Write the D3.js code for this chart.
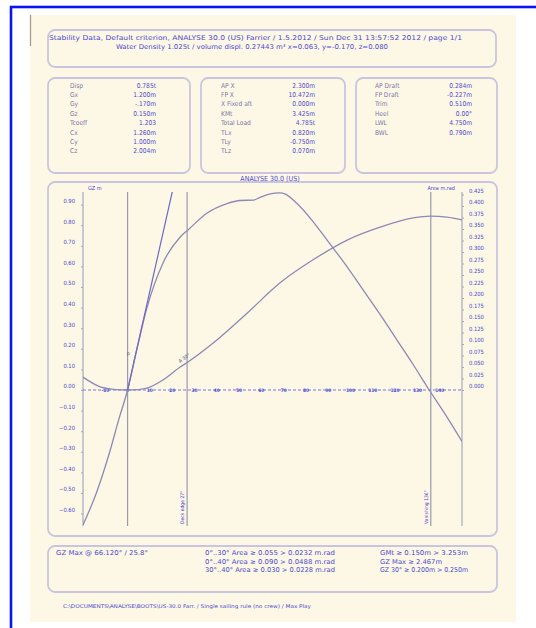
<!DOCTYPE html>
<html>
<head>
<meta charset="utf-8">
<script src="https://cdn.jsdelivr.net/npm/d3@7"></script>
<style>
  body { margin: 0; background: #ffffff; }
  text { font-family: "DejaVu Sans Condensed", "DejaVu Sans", sans-serif; }
</style>
</head>
<body>
<div id="page"></div>
<script>
// ---- data ----
var headerLines = [
  "Stability Data, Default criterion, ANALYSE 30.0 (US) Farrier / 1.5.2012 / Sun Dec 31 13:57:52 2012 / page 1/1",
  "Water Density 1.025t / volume displ. 0.27443 m\u00b3 x=0.063, y=-0.170, z=0.080"
];

var box1Labels = ["Disp", "Gx", "Gy", "Gz", "Tcoeff", "Cx", "Cy", "Cz"];
var box1Values = ["0.785t", "1.200m", "-.170m", "0.150m", "1.203", "1.260m", "1.000m", "2.004m"];
var box2Labels = ["AP X", "FP X", "X Fixed aft", "KMt", "Total Load", "TLx", "TLy", "TLz"];
var box2Values = ["2.300m", "10.472m", "0.000m", "3.425m", "4.785t", "0.820m", "-0.750m", "0.070m"];
var box3Labels = ["AP Draft", "FP Draft", "Trim", "Heel", "LWL", "BWL"];
var box3Values = ["0.284m", "-0.227m", "0.510m", "0.00\u00b0", "4.750m", "0.790m"];

var chartTitle = "ANALYSE 30.0 (US)";

// GZ curve (deg, m)
var gzAngles = [-20, -14, -8, -4, 0, 4.3, 8.7, 15.9, 23.6, 27.1, 35.7, 44.6, 50.5, 56.5, 59.4, 64, 68, 71, 76, 83, 90, 98, 106, 114, 121, 128, 135.3, 142, 150];
var gzValues = [-0.655, -0.50, -0.30, -0.145, 0, 0.204, 0.40, 0.617, 0.743, 0.777, 0.859, 0.905, 0.92, 0.922, 0.935, 0.952, 0.957, 0.95, 0.905, 0.82, 0.72, 0.605, 0.48, 0.355, 0.24, 0.125, 0, -0.11, -0.25];

// area under curve (deg, m.rad)
var areaAngles = [-20, -12.3, -5, 0, 5, 8.7, 15.9, 23.6, 27.1, 38.4, 53.6, 68.4, 83.2, 98.5, 113.3, 128.1, 135.7, 143.3, 150];
var areaValues = [0.028, 0.007, 0.001, 0, 0.001, 0.004, 0.022, 0.050, 0.061, 0.102, 0.167, 0.233, 0.283, 0.326, 0.354, 0.374, 0.378, 0.376, 0.370];

// initial GM line (deg, m)
var gmAngles = [0, 57.3];
var gmValues = [0, 2.75];

var gzTicks = [0.9, 0.8, 0.7, 0.6, 0.5, 0.4, 0.3, 0.2, 0.1, 0, -0.1, -0.2, -0.3, -0.4, -0.5, -0.6];
var areaTicks = [0.425, 0.4, 0.375, 0.35, 0.325, 0.3, 0.275, 0.25, 0.225, 0.2, 0.175, 0.15, 0.125, 0.1, 0.075, 0.05, 0.025, 0];
var angleMarks = [-10, 0, 10, 20, 30, 40, 50, 60, 70, 80, 90, 100, 110, 120, 130, 140];

var vLineAngles = [0, 26.7, 136];
var vLineLabels = ["", "Deck edge 27\u00b0", "Vanishing 136\u00b0"];

var bottomCol1 = ["GZ Max @ 66.120\u00b0 / 25.8\u00b0"];
var bottomCol2 = ["0\u00b0..30\u00b0 Area \u2265 0.055 > 0.0232 m.rad",
                  "0\u00b0..40\u00b0 Area \u2265 0.090 > 0.0488 m.rad",
                  "30\u00b0..40\u00b0 Area \u2265 0.030 > 0.0228 m.rad"];
var bottomCol3 = ["GMt \u2265 0.150m > 3.253m", "GZ Max \u2265 2.467m", "GZ 30\u00b0 \u2265 0.200m > 0.250m"];
var footerText = "C:\\DOCUMENTS\\ANALYSE\\BOOTS\\US-30.0 Farr. / Single sailing rule (no crew) / Max Play";

// ---- layout ----
var svgWidth = 536;
var svgHeight = 628;
var lineCol = "#8d89b5";
var boxCol = "#c9c5df";
var labelCol = "#7a78a6";
var valueCol = "#4c4ad0";

var svg = d3.select("#page").append("svg")
  .attr("width", svgWidth)
  .attr("height", svgHeight);

// blue frame and cream sheet
svg.append("rect").attr("x", 0).attr("y", 0).attr("width", svgWidth).attr("height", svgHeight).attr("fill", "#ffffff");
svg.append("rect")
  .attr("x", 11).attr("y", 7).attr("width", 600).attr("height", 700)
  .attr("fill", "none").attr("stroke", "#0a14f0").attr("stroke-width", 2.6);
svg.append("rect")
  .attr("x", 30).attr("y", 15).attr("width", 486).attr("height", 607)
  .attr("fill", "#fdf7e6");
svg.append("line").attr("x1", 30.5).attr("x2", 30.5).attr("y1", 15).attr("y2", 46)
  .attr("stroke", "#a09a8c").attr("stroke-width", 1.2);

function box(x, y, w, h) {
  svg.append("rect")
    .attr("x", x).attr("y", y).attr("width", w).attr("height", h)
    .attr("rx", 7).attr("ry", 7)
    .attr("fill", "none").attr("stroke", boxCol).attr("stroke-width", 1.8);
}

// text squeezed/stretched to the width it has in the picture
function fitText(x, y, t, w, size, col) {
  return svg.append("text").attr("x", x).attr("y", y)
    .attr("font-size", size).attr("fill", col)
    .attr("textLength", w).attr("lengthAdjust", "spacingAndGlyphs")
    .text(t);
}

// header
box(48, 30, 448, 37);
fitText(49, 40, headerLines[0], 413, 6.6, valueCol);
fitText(116, 49, headerLines[1], 272, 6.6, valueCol);

// info boxes
function infoBox(x, w, labels, values, labelX, valueX) {
  box(x, 78, w, 95);
  labels.forEach(function(l, i) {
    svg.append("text").attr("x", labelX).attr("y", 87.5 + i * 9.4)
      .attr("font-size", 6.6).attr("fill", labelCol).text(l);
    svg.append("text").attr("x", valueX).attr("y", 87.5 + i * 9.4)
      .attr("font-size", 6.6).attr("fill", valueCol).attr("text-anchor", "end").text(values[i]);
  });
}
infoBox(48, 142, box1Labels, box1Values, 70, 156);
infoBox(201, 144, box2Labels, box2Values, 221, 315);
infoBox(356, 141, box3Labels, box3Values, 375, 472);

// chart box
box(48, 182, 449, 354);
svg.append("text").attr("x", 270).attr("y", 181).attr("text-anchor", "middle")
  .attr("font-size", 7).attr("fill", valueCol).text(chartTitle);

var plot = { left: 83, right: 462, top: 192, bottom: 526 };

var xScale = d3.scaleLinear().domain([-20, 150]).range([plot.left, plot.right]);
var yScale = d3.scaleLinear().domain([0, 0.1]).range([390, 369.4]);
var aScale = d3.scaleLinear().domain([0, 0.1]).range([390, 344]);

svg.append("clipPath").attr("id", "plotclip")
  .append("rect").attr("x", plot.left).attr("y", plot.top)
  .attr("width", plot.right - plot.left).attr("height", plot.bottom - plot.top);

// axes
var leftAxis = d3.axisLeft(yScale).tickValues(gzTicks).tickSize(2).tickPadding(6)
  .tickFormat(d3.format(".2f"));
var rightAxis = d3.axisRight(aScale).tickValues(areaTicks).tickSize(2).tickPadding(5)
  .tickFormat(d3.format(".3f"));

var yAxisG = svg.append("g").attr("transform", "translate(" + plot.left + ",0)").call(leftAxis);
var aAxisG = svg.append("g").attr("transform", "translate(" + plot.right + ",0)").call(rightAxis);
[yAxisG, aAxisG].forEach(function(g) {
  g.select(".domain").attr("d", "M0," + plot.top + "V" + plot.bottom)
    .attr("stroke", "#aaa8bc").attr("stroke-width", 1.2);
  g.selectAll(".tick line").attr("stroke", "#aaa8bc");
  g.selectAll(".tick text").attr("font-size", 5.8).attr("fill", valueCol)
    .attr("font-family", "DejaVu Sans Condensed, sans-serif").attr("dy", "-0.35em");
});

svg.append("text").attr("x", 88).attr("y", 190).attr("font-size", 5.5).attr("fill", valueCol).text("GZ m");
svg.append("text").attr("x", 455).attr("y", 190).attr("font-size", 5.5).attr("fill", valueCol)
  .attr("text-anchor", "end").text("Area m.rad");

// vertical reference lines
svg.selectAll(".vline").data(vLineAngles).enter().append("line")
  .attr("x1", d => xScale(d)).attr("x2", d => xScale(d))
  .attr("y1", plot.top).attr("y2", plot.bottom)
  .attr("stroke", "#9c99ad").attr("stroke-width", 1.2);
svg.selectAll(".vlabel").data(vLineAngles).enter().append("text")
  .attr("transform", d => "translate(" + (xScale(d) - 3) + "," + (plot.bottom - 2) + ") rotate(-90)")
  .attr("font-size", 5).attr("fill", valueCol)
  .text((d, i) => vLineLabels[i]);

// baseline with angle marks
svg.append("line")
  .attr("x1", plot.left).attr("x2", plot.right).attr("y1", yScale(0)).attr("y2", yScale(0))
  .attr("stroke", "#6a68dc").attr("stroke-width", 0.9).attr("stroke-dasharray", "3,2");
svg.selectAll(".amark").data(angleMarks).enter().append("text")
  .attr("x", d => xScale(d)).attr("y", yScale(0)).attr("dy", "0.35em")
  .attr("text-anchor", "middle").attr("font-size", 4.8).attr("fill", valueCol)
  .attr("font-weight", "bold")
  .text(d => d);

var curves = svg.append("g").attr("clip-path", "url(#plotclip)");

var gzLine = d3.line()
  .x(d => xScale(d[0])).y(d => yScale(d[1]))
  .curve(d3.curveMonotoneX);
var areaLine = d3.line()
  .x(d => xScale(d[0])).y(d => aScale(d[1]))
  .curve(d3.curveMonotoneX);

curves.append("path")
  .attr("d", gzLine(d3.zip(gzAngles, gzValues)))
  .attr("fill", "none").attr("stroke", lineCol).attr("stroke-width", 1.3);
curves.append("path")
  .attr("d", areaLine(d3.zip(areaAngles, areaValues)))
  .attr("fill", "none").attr("stroke", lineCol).attr("stroke-width", 1.3);
curves.append("path")
  .attr("d", d3.line().x(d => xScale(d[0])).y(d => yScale(d[1]))(d3.zip(gmAngles, gmValues)))
  .attr("fill", "none").attr("stroke", "#6d69c4").attr("stroke-width", 1.2);

svg.append("text").attr("x", 127).attr("y", 355).attr("font-size", 5).attr("fill", "#55537a").text("p");
svg.append("text").attr("transform", "translate(180,363) rotate(-35)")
  .attr("font-size", 5).attr("fill", "#55537a").text("A 30\u00b0");

// bottom box
box(48, 546, 449, 46);
fitText(56, 555, bottomCol1[0], 92, 6.6, valueCol);
bottomCol2.forEach(function(t, i) {
  fitText(205, 555 + i * 8.5, t, 130, 6.6, valueCol);
});
var col3Widths = [88, 62, 88];
bottomCol3.forEach(function(t, i) {
  fitText(380, 555 + i * 8.5, t, col3Widths[i], 6.6, valueCol);
});

fitText(63, 608, footerText, 248, 5.2, valueCol);
</script>
</body>
</html>
